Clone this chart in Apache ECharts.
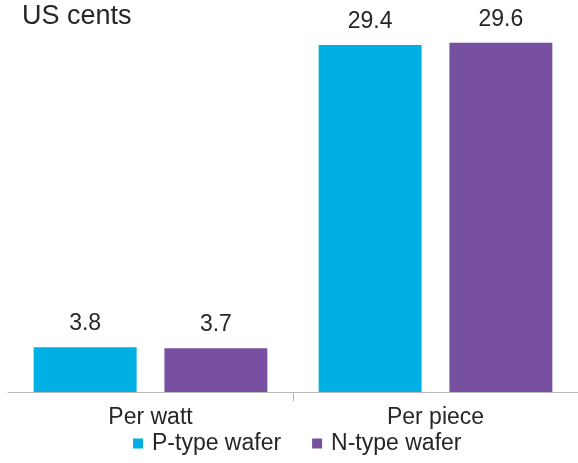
<!DOCTYPE html>
<html>
<head>
<meta charset="utf-8">
<script src="https://cdn.jsdelivr.net/npm/echarts@6/dist/echarts.min.js"></script>
<style>
  html, body { margin: 0; padding: 0; background: #ffffff; }
  #chart { width: 578px; height: 463px; }
</style>
</head>
<body>
<div id="chart"></div>
<script>
// Wafer cost comparison, in US cents
const categories = ['Per watt', 'Per piece'];
const seriesNames = ['P-type wafer', 'N-type wafer'];
const pTypeValues = [3.8, 29.4];
const nTypeValues = [3.7, 29.6];
const unitLabel = 'US cents';

const FONT = 'Arial, "Liberation Sans", sans-serif';
const TEXT = '#262626';
const AXIS = '#b8b8b8';
const COLORS = ['#00AFE3', '#7850A1'];

const chart = echarts.init(document.getElementById('chart'));

const barLabel = {
  show: true,
  position: 'top',
  distance: 12,
  color: TEXT,
  fontFamily: FONT,
  fontSize: 23
};

chart.setOption({
  animation: false,
  title: {
    text: unitLabel,
    left: 22,
    top: 3,
    padding: 0,
    textStyle: { color: TEXT, fontFamily: FONT, fontSize: 27, fontWeight: 'normal' }
  },
  legend: {
    data: seriesNames,
    left: 133,
    top: 432,
    padding: 0,
    itemWidth: 10,
    itemHeight: 10,
    itemGap: 31,
    icon: 'rect',
    textStyle: { color: TEXT, fontFamily: FONT, fontSize: 23, padding: [0, 0, 0, 4] }
  },
  grid: { left: 8, right: 0, top: 38, bottom: 71, containLabel: false },
  xAxis: {
    type: 'category',
    data: categories,
    axisLine: { lineStyle: { color: AXIS, width: 1 } },
    axisTick: { show: false },
    axisLabel: { color: TEXT, fontFamily: FONT, fontSize: 23, margin: 14 }
  },
  yAxis: {
    type: 'value',
    min: 0,
    max: 30,
    show: false,
    splitLine: { show: false }
  },
  series: [
    {
      name: seriesNames[0],
      type: 'bar',
      data: pTypeValues,
      itemStyle: { color: COLORS[0] },
      barGap: '27%',
      barCategoryGap: '18%',
      label: barLabel
    },
    {
      name: seriesNames[1],
      type: 'bar',
      data: nTypeValues,
      itemStyle: { color: COLORS[1] },
      barGap: '27%',
      barCategoryGap: '18%',
      label: barLabel
    }
  ]
});

// Single divider tick between the two category bands, placed via the axis scales
const c0 = chart.convertToPixel({ xAxisIndex: 0 }, categories[0]);
const c1 = chart.convertToPixel({ xAxisIndex: 0 }, categories[1]);
const yBase = chart.convertToPixel({ yAxisIndex: 0 }, 0);
const xDiv = Math.round((c0 + c1) / 2) + 0.5;
chart.setOption({
  graphic: [{
    type: 'line',
    shape: { x1: xDiv, y1: yBase, x2: xDiv, y2: yBase + 9 },
    style: { stroke: AXIS, lineWidth: 1 },
    silent: true
  }]
});
</script>
</body>
</html>
